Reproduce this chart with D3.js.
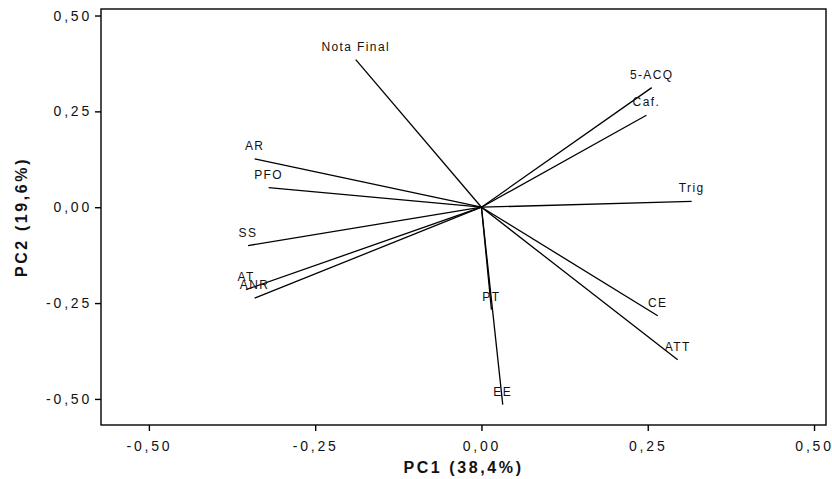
<!DOCTYPE html>
<html>
<head>
<meta charset="utf-8">
<script src="https://cdn.jsdelivr.net/npm/d3@7"></script>
<style>
  body { margin: 0; background: #fff; }
  text { font-family: "Liberation Sans", Arial, sans-serif; fill: #111; }
</style>
</head>
<body>
<div id="chart"></div>
<script>
// loadings
const variables = ["Nota Final", "AR", "PFO", "5-ACQ", "Caf.", "Trig", "SS", "AT", "ANR", "PT", "EE", "CE", "ATT"];
const pc1 = [-0.189, -0.341, -0.320, 0.256, 0.248, 0.316, -0.351, -0.354, -0.341, 0.015, 0.032, 0.265, 0.295];
const pc2 = [0.385, 0.126, 0.051, 0.312, 0.240, 0.015, -0.100, -0.215, -0.237, -0.267, -0.515, -0.283, -0.398];
const ticks = [-0.5, -0.25, 0, 0.25, 0.5];
const xTitle = "PC1 (38,4%)";
const yTitle = "PC2 (19,6%)";

const width = 832;
const height = 479;
const margin = {top: 9, right: 6, bottom: 54, left: 101};

const svg = d3.select("#chart")
    .append("svg")
    .attr("width", width)
    .attr("height", height);

const x = d3.scaleLinear()
    .domain([-0.572, 0.518])
    .range([margin.left, width - margin.right]);
const y = d3.scaleLinear()
    .domain([-0.568, 0.517])
    .range([height - margin.bottom, margin.top]);

const fmt = d => d3.format(".2f")(d).replace(".", ",").replace("−", "-");

// frame
svg.append("rect")
    .attr("x", margin.left)
    .attr("y", margin.top)
    .attr("width", width - margin.left - margin.right)
    .attr("height", height - margin.top - margin.bottom)
    .attr("fill", "none")
    .attr("stroke", "#000")
    .attr("stroke-width", 1.4);

// axes
const xAxis = svg.append("g")
    .attr("transform", `translate(0,${height - margin.bottom})`)
    .call(d3.axisBottom(x).tickValues(ticks).tickFormat(fmt).tickSize(6).tickPadding(10));
const yAxis = svg.append("g")
    .attr("transform", `translate(${margin.left},0)`)
    .call(d3.axisLeft(y).tickValues(ticks).tickFormat(fmt).tickSize(6).tickPadding(3));

[xAxis, yAxis].forEach(g => {
    g.select(".domain").remove();
    g.selectAll(".tick line").attr("stroke", "#000").attr("stroke-width", 1.4);
    g.selectAll(".tick text")
        .attr("font-size", "14px")
        .attr("letter-spacing", "2.8px")
        .attr("fill", "#222");
});

// axis titles
svg.append("text")
    .attr("x", (margin.left + width - margin.right) / 2)
    .attr("y", 473)
    .attr("text-anchor", "middle")
    .attr("font-size", "16px")
    .attr("font-weight", "bold")
    .attr("letter-spacing", "2.6px")
    .text(xTitle);

svg.append("text")
    .attr("transform", `translate(27,${(margin.top + height - margin.bottom) / 2}) rotate(-90)`)
    .attr("text-anchor", "middle")
    .attr("font-size", "16px")
    .attr("font-weight", "bold")
    .attr("letter-spacing", "2.6px")
    .text(yTitle);

// loading vectors
const data = variables.map((name, i) => ({name, x: pc1[i], y: pc2[i]}));

svg.append("g")
    .selectAll("line")
    .data(data)
    .enter()
    .append("line")
    .attr("x1", x(0))
    .attr("y1", y(0))
    .attr("x2", d => x(d.x))
    .attr("y2", d => y(d.y))
    .attr("stroke", "#000")
    .attr("stroke-width", 1.3);

svg.append("g")
    .selectAll("text")
    .data(data)
    .enter()
    .append("text")
    .attr("x", d => x(d.x))
    .attr("y", d => y(d.y) - 9)
    .attr("text-anchor", "middle")
    .attr("font-size", "12px")
    .attr("letter-spacing", "1.4px")
    .attr("fill", "#222")
    .text(d => d.name);
</script>
</body>
</html>
